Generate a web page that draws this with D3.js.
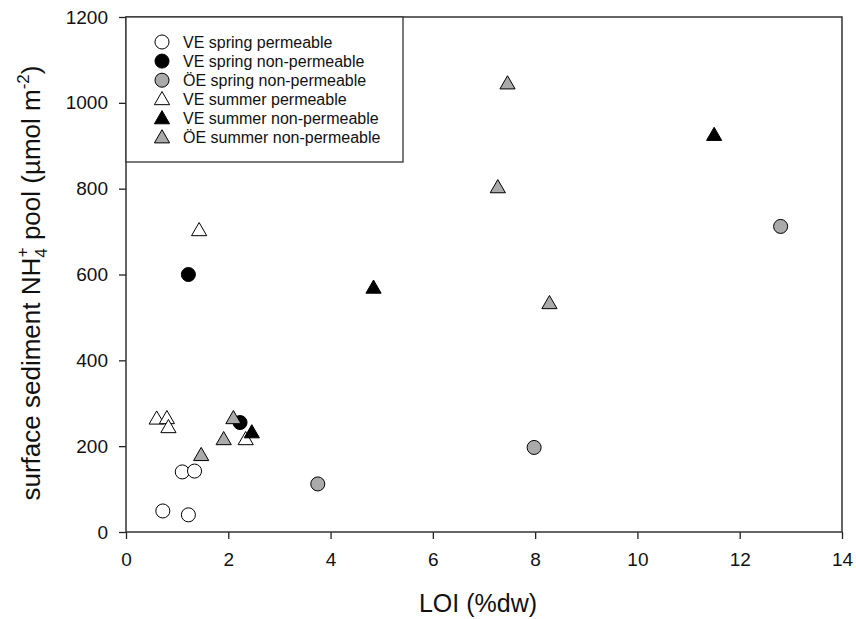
<!DOCTYPE html>
<html>
<head>
<meta charset="utf-8">
<script src="https://cdn.jsdelivr.net/npm/d3@7"></script>
<style>
  body { margin: 0; background: #fff; }
  text { font-family: "Liberation Sans", Arial, sans-serif; fill: #111; }
</style>
</head>
<body>
<div id="chart"></div>
<script>
// LOI (%dw) vs surface sediment NH4+ pool (µmol m-2)
const seriesNames = [
  "VE spring permeable",
  "VE spring non-permeable",
  "ÖE spring non-permeable",
  "VE summer permeable",
  "VE summer non-permeable",
  "ÖE summer non-permeable"
]
const veSpringPerm = [[0.72, 49], [1.22, 40], [1.10, 140], [1.34, 142]]
const veSpringNonPerm = [[1.22, 600], [2.23, 255]]
const oeSpringNonPerm = [[3.75, 112], [7.98, 197], [12.8, 712]]
const veSummerPerm = [[0.60, 264], [0.80, 265], [0.83, 244], [2.34, 216], [1.43, 703]]
const veSummerNonPerm = [[2.46, 232], [4.84, 569], [11.5, 925]]
const oeSummerNonPerm = [[2.10, 265], [1.91, 216], [1.47, 179], [7.46, 1045], [7.27, 803], [8.28, 533]]
const xTicks = [0, 2, 4, 6, 8, 10, 12, 14]
const yTicks = [0, 200, 400, 600, 800, 1000, 1200]

const seriesData = [veSpringPerm, veSpringNonPerm, oeSpringNonPerm, veSummerPerm, veSummerNonPerm, oeSummerNonPerm]
const shapes = ["circle", "circle", "circle", "triangle", "triangle", "triangle"]
const fills = ["#ffffff", "#000000", "#aaaaaa", "#ffffff", "#000000", "#aaaaaa"]

const width = 856, height = 619
const margin = { top: 17, right: 14, bottom: 87, left: 126 }

const svg = d3.select("#chart").append("svg")
  .attr("width", width)
  .attr("height", height)

const x = d3.scaleLinear().domain([0, 14]).range([margin.left, width - margin.right])
const y = d3.scaleLinear().domain([0, 1200]).range([height - margin.bottom, margin.top])

const circleSym = d3.symbol().type(d3.symbolCircle).size(155)
const triSym = d3.symbol().type(d3.symbolTriangle).size(100)
const symPath = s => s === "circle" ? circleSym() : triSym()

// axes
svg.append("g")
  .attr("transform", `translate(0,${y(0)})`)
  .call(d3.axisBottom(x).tickValues(xTicks).tickSize(7).tickPadding(14).tickFormat(d3.format("d")))
  .call(g => g.selectAll("text").attr("font-size", 19))

svg.append("g")
  .attr("transform", `translate(${x(0)},0)`)
  .call(d3.axisLeft(y).tickValues(yTicks).tickSize(7).tickPadding(11).tickFormat(d3.format("d")))
  .call(g => g.selectAll("text").attr("font-size", 19))

svg.selectAll(".domain").remove()
svg.selectAll(".tick line").attr("stroke", "#222").attr("stroke-width", 1.3)

// frame
svg.append("rect")
  .attr("x", x(0)).attr("y", y(1200))
  .attr("width", x(14) - x(0)).attr("height", y(0) - y(1200))
  .attr("fill", "none").attr("stroke", "#333").attr("stroke-width", 1.5)

// legend box
const legend = svg.append("g")
legend.append("rect")
  .attr("x", x(0)).attr("y", y(1200))
  .attr("width", 277).attr("height", 145)
  .attr("fill", "#fff").attr("stroke", "#333").attr("stroke-width", 1.3)

const legendRow = legend.selectAll("g.row")
  .data(seriesNames)
  .join("g")
  .attr("class", "row")
  .attr("transform", (d, i) => `translate(${x(0) + 36},${y(1200) + 25 + i * 19.1})`)

legendRow.append("path")
  .attr("d", (d, i) => symPath(shapes[i]))
  .attr("transform", (d, i) => shapes[i] === "triangle" ? "translate(0,1)" : null)
  .attr("fill", (d, i) => fills[i])
  .attr("stroke", "#000").attr("stroke-width", 1)

legendRow.append("text")
  .attr("x", 21).attr("dy", "0.35em")
  .attr("font-size", 16)
  .text(d => d)

// points
seriesData.forEach((pts, i) => {
  svg.append("g").selectAll("path")
    .data(pts)
    .join("path")
    .attr("d", symPath(shapes[i]))
    .attr("transform", d => `translate(${x(d[0])},${y(d[1]) + (shapes[i] === "triangle" ? 1 : 0)})`)
    .attr("fill", fills[i])
    .attr("stroke", "#000").attr("stroke-width", 1)
})

// axis titles
svg.append("text")
  .attr("x", 478).attr("y", 612)
  .attr("text-anchor", "middle")
  .attr("font-size", 25)
  .text("LOI (%dw)")

const yTitle = svg.append("text")
  .attr("transform", `translate(40,283) rotate(-90)`)
  .attr("text-anchor", "middle")
  .attr("font-size", 26)
yTitle.append("tspan").text("surface sediment NH")
yTitle.append("tspan").attr("font-size", 17).attr("dy", 7).text("4")
yTitle.append("tspan").attr("font-size", 17).attr("dy", -19).attr("dx", -9).text("+")
yTitle.append("tspan").attr("dy", 12).text(" pool (µmol m")
yTitle.append("tspan").attr("font-size", 17).attr("dy", -11).text("-2")
yTitle.append("tspan").attr("dy", 11).text(")")
</script>
</body>
</html>
